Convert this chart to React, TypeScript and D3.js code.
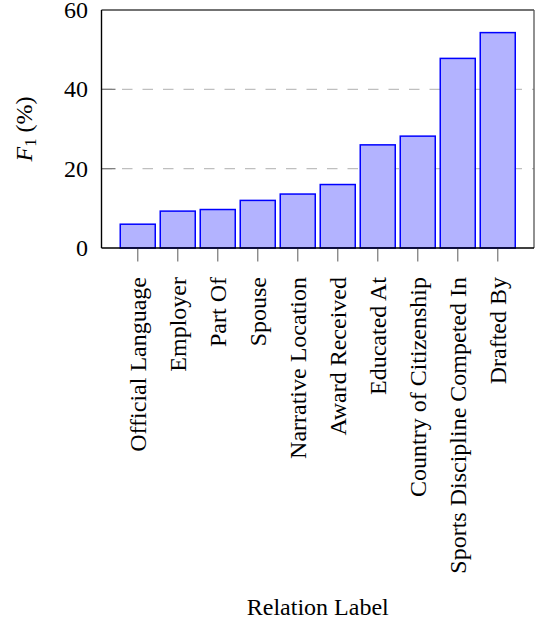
import React from "react";
import * as d3 from "d3";

const categories = [
  "Official Language",
  "Employer",
  "Part Of",
  "Spouse",
  "Narrative Location",
  "Award Received",
  "Educated At",
  "Country of Citizenship",
  "Sports Discipline Competed In",
  "Drafted By",
];
const values = [6.0, 9.3, 9.7, 12.0, 13.6, 16.0, 26.0, 28.2, 47.8, 54.3];
const yTicks = [0, 20, 40, 60];
const gridTicks = [20, 40];

const W = 535;
const H = 621;
const left = 101.5;
const right = 534;
const top = 10;
const bottom = 248;
const serif = "'Liberation Serif', 'Times New Roman', serif";

export default function App() {
  const x = d3
    .scaleBand<string>()
    .domain(categories)
    .range([left, right])
    .paddingInner(0.125)
    .paddingOuter(0.46875);
  const y = d3.scaleLinear().domain([0, 60]).range([bottom, top]);
  const fs = 24;

  return (
    <svg
      width={W}
      height={H}
      style={{ position: "absolute", left: 0, top: 0, background: "#fff" }}
    >
      {gridTicks.map((t) => (
        <line
          key={"g" + t}
          x1={left}
          x2={right}
          y1={y(t)}
          y2={y(t)}
          stroke="#bfbfbf"
          strokeWidth={1.3}
          strokeDasharray="10.5 10"
        />
      ))}
      {gridTicks.map((t) => (
        <line
          key={"yt" + t}
          x1={left}
          x2={left + 14}
          y1={y(t)}
          y2={y(t)}
          stroke="#808080"
          strokeWidth={1.3}
        />
      ))}
      {categories.map((c, i) => (
        <rect
          key={c}
          x={x(c)!}
          y={y(values[i])}
          width={x.bandwidth()}
          height={y(0) - y(values[i])}
          fill="#b3b3ff"
          stroke="#0000ff"
          strokeWidth={1.5}
        />
      ))}
      {categories.map((c) => {
        const cx = x(c)! + x.bandwidth() / 2;
        return (
          <line
            key={"xt" + c}
            x1={cx}
            x2={cx}
            y1={bottom}
            y2={bottom + 13.5}
            stroke="#808080"
            strokeWidth={1.3}
          />
        );
      })}
      <line x1={left} x2={right} y1={top} y2={top} stroke="#444" strokeWidth={1.3} />
      <line x1={right} x2={right} y1={top} y2={bottom} stroke="#555" strokeWidth={1.3} />
      <line x1={left} x2={left} y1={top} y2={bottom} stroke="#000" strokeWidth={1.4} />
      <line x1={left} x2={right} y1={bottom} y2={bottom} stroke="#000" strokeWidth={1.4} />
      {yTicks.map((t) => (
        <text
          key={"yl" + t}
          x={left - 13.5}
          y={y(t)}
          dy="0.34em"
          textAnchor="end"
          fontFamily={serif}
          fontSize={fs}
          fill="#000"
        >
          {t}
        </text>
      ))}
      {categories.map((c) => {
        const cx = x(c)! + x.bandwidth() / 2;
        const ty = bottom + 29;
        return (
          <text
            key={"xl" + c}
            transform={`translate(${cx},${ty}) rotate(-90)`}
            dy="0.33em"
            textAnchor="end"
            fontFamily={serif}
            fontSize={fs}
            fill="#000"
          >
            {c}
          </text>
        );
      })}
      <text
        x={(left + right) / 2}
        y={615}
        textAnchor="middle"
        fontFamily={serif}
        fontSize={fs}
        fill="#000"
      >
        Relation Label
      </text>
      <text
        transform={`translate(${32},${(top + bottom) / 2}) rotate(-90)`}
        textAnchor="middle"
        fontFamily={serif}
        fontSize={fs}
        fill="#000"
      >
        <tspan fontStyle="italic">F</tspan>
        <tspan fontSize={fs * 0.7} dy="0.25em">1</tspan>
        <tspan dy="-0.175em"> (%)</tspan>
      </text>
    </svg>
  );
}
